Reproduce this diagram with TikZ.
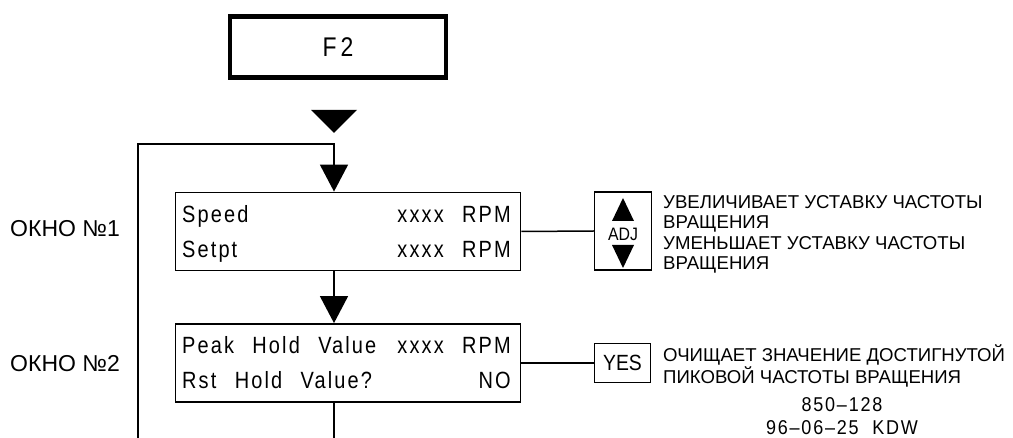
\documentclass[tikz,border=0pt]{standalone}
\usepackage{fontspec}
\setmainfont{Liberation Sans}
\newfontfamily\cadfont[FakeStretch=0.85,LetterSpace=9,WordSpace=2.4]{Liberation Sans}
\newfontfamily\keyfont[FakeStretch=0.88]{Liberation Sans}
\newfontfamily\codefont[FakeStretch=0.9,LetterSpace=9,WordSpace=2]{Liberation Sans}
\usetikzlibrary{arrows.meta}

\tikzset{
  panel/.style={draw, line width=1.8pt, minimum width=345pt, minimum height=78pt, inner sep=0pt},
  keybox/.style={draw, line width=1.5pt, inner sep=0pt},
  link/.style={line width=1.5pt},
  flow/.style={line width=1.5pt, -{Triangle[width=28pt,length=27pt]}},
  cad/.style={font=\cadfont\fontsize{23.5}{26}\selectfont, inner sep=0pt},
  note/.style={font=\fontsize{18.6}{20.3}\selectfont, align=left, inner sep=0pt, anchor=west},
  side/.style={font=\fontsize{23}{25}\selectfont, anchor=west, inner sep=0pt},
}

\begin{document}
\begin{tikzpicture}[x=1pt, y=-1pt]
\useasboundingbox (0,0) rectangle (1013,438);

\node[draw, line width=4.5pt, minimum width=216pt, minimum height=61pt,
  font=\cadfont\fontsize{27}{29}\selectfont] (f2) at (338,47) {F\kern4pt 2};

\fill (311,110) -- (357,110) -- (334,133) -- cycle;

\coordinate (top) at (334,144);
\coordinate (loopend) at (138,438);
\coordinate (exit) at (334,438);

\node[panel] (win1) at (348,231.5) {};
\node[panel] (win2) at (348,363) {};

\draw[flow] (loopend) |- (top) -- (top |- win1.north);
\draw[flow] (win1.south -| top) -- (win2.north -| top);
\draw[link] (win2.south -| top) -- (exit);

\node[cad, anchor=base west] (spd) at (182,223) {Speed};
\node[cad, anchor=base east] (spdval) at (511,223) {xxxx RPM};
\node[cad, anchor=base west] (setp) at (182,258) {Setpt};
\node[cad, anchor=base east] (setpval) at (511,258) {xxxx RPM};

\node[cad, anchor=base west] (peak) at (182,354) {Peak Hold Value};
\node[cad, anchor=base east] (peakval) at (511,354) {xxxx RPM};
\node[cad, anchor=base west] (rst) at (182,389) {Rst Hold Value?};
\node[cad, anchor=base east] (rstval) at (511,389) {NO};

\node[side] (lbl1) at (10,229) {ОКНО №1};
\node[side] (lbl2) at (10,364) {ОКНО №2};

\node[keybox, minimum width=57pt, minimum height=78pt] (adj) at (623,231) {};
\draw[link] (win1.east) -- (adj.west);
\fill (612,221) -- (634,221) -- (623,198) -- cycle;
\node[font=\keyfont\fontsize{18}{20}\selectfont, inner sep=0pt] (adjtxt) at (623,234) {ADJ};
\fill (612,245) -- (634,245) -- (623,268) -- cycle;
\node[note] (adjnote) at (663,234.5) {УВЕЛИЧИВАЕТ УСТАВКУ ЧАСТОТЫ\\ВРАЩЕНИЯ\\УМЕНЬШАЕТ УСТАВКУ ЧАСТОТЫ\\ВРАЩЕНИЯ};

\node[keybox, minimum width=56pt, minimum height=39pt,
  font=\keyfont\fontsize{22}{24}\selectfont] (yes) at (622.5,363) {YES};
\draw[link] (win2.east) -- (yes.west);
\node[note] (yesnote) at (663,366) {ОЧИЩАЕТ ЗНАЧЕНИЕ ДОСТИГНУТОЙ\\ПИКОВОЙ ЧАСТОТЫ ВРАЩЕНИЯ};

\node[font=\codefont\fontsize{20}{23.5}\selectfont, align=center, inner sep=0pt] (code) at (842,416) {850–128\\96–06–25 KDW};

\end{tikzpicture}
\end{document}
